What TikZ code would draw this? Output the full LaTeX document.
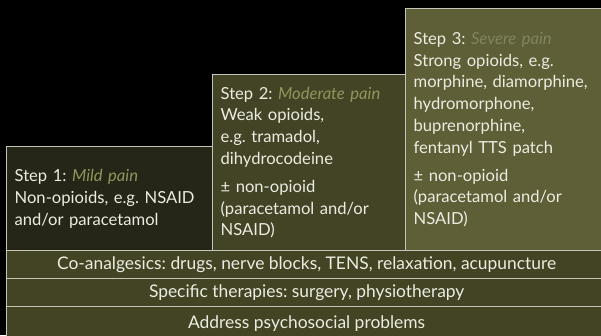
\documentclass[tikz,border=0pt]{standalone}
\usepackage{fontspec}
\setmainfont{Lato}
\frenchspacing

\definecolor{stepone}{RGB}{37,38,24}
\definecolor{steptwo}{RGB}{67,67,37}
\definecolor{stepthree}{RGB}{94,95,54}
\definecolor{bandfill}{RGB}{67,68,35}
\definecolor{edgegray}{RGB}{196,198,186}
\definecolor{paletext}{RGB}{236,236,226}
\definecolor{painlabel}{RGB}{146,150,92}
\definecolor{severelabel}{RGB}{128,132,96}

\tikzset{
  stepbox/.style={draw=edgegray, line width=1.3pt, anchor=north west,
    align=left, inner xsep=8pt, inner ysep=0pt, text=paletext,
    font=\fontsize{16.6}{21.8}\selectfont},
  band/.style={draw=edgegray, line width=1.3pt, anchor=north west,
    minimum width=600pt, inner sep=0pt, text=paletext,
    font=\fontsize{17.4}{20}\selectfont}
}

\begin{document}
\begin{tikzpicture}[x=1pt,y=-1pt]
		\useasboundingbox[fill=black] (0,0) rectangle (601,335);

		% the three steps of the ladder
		\node[stepbox, fill=stepone, minimum width=206pt, minimum height=104pt, text width=190pt]
			(step1) at (6,146) {Step 1: \textcolor{painlabel}{\itshape Mild pain}\\
			Non-opioids, e.g. NSAID\\ and/or paracetamol};
		\node[stepbox, fill=steptwo, minimum width=195pt, minimum height=176pt, text width=179pt]
			(step2) at (212,74) {Step 2: \textcolor{painlabel}{\itshape Moderate pain}\\
			Weak opioids,\\ e.g. tramadol,\\ dihydrocodeine\\[6pt]
			± non-opioid\\ (paracetamol and/or\\ NSAID)};
		\node[stepbox, fill=stepthree, minimum width=200pt, minimum height=242pt, text width=184pt]
			(step3) at (405,8) {Step 3: \textcolor{severelabel}{\itshape Severe pain}\\
			Strong opioids, e.g.\\ morphine, diamorphine,\\ hydromorphone,\\
			buprenorphine,\\ fentanyl TTS patch\\[6pt]
			± non-opioid\\ (paracetamol and/or\\ NSAID)};

		% supporting measures
		\node[band, fill=bandfill, minimum height=28pt] (coanalg) at (6,250)
			{Co-analgesics: drugs, nerve blocks, TENS, relaxation, acupuncture};
		\node[band, fill=bandfill, minimum height=28pt] (specific) at (6,278)
			{Specific therapies: surgery, physiotherapy};
		\node[band, fill=bandfill, minimum height=34pt] (psycho) at (6,306)
			{Address psychosocial problems};

	\end{tikzpicture}
\end{document}
